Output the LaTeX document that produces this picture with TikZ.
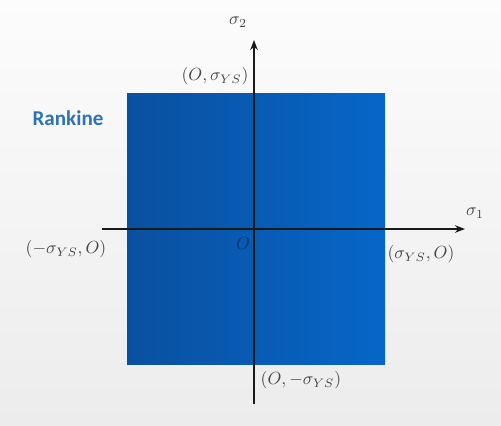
\documentclass[tikz,border=0pt]{standalone}
\usepackage{fontspec}
\newfontfamily\carlito{Carlito}
\usepackage{xcolor}
\usepackage{tikz}
\usetikzlibrary{arrows.meta,positioning}
\definecolor{pagetop}{RGB}{252,252,252}
\definecolor{pagegrey}{RGB}{236,236,236}
\definecolor{boxdark}{RGB}{10,80,160}
\definecolor{boxlight}{RGB}{6,102,200}
\definecolor{rankblue}{RGB}{46,116,181}
\definecolor{labgrey}{RGB}{70,70,70}

\begin{document}
\begin{tikzpicture}[x=0.02cm,y=-0.02cm,
  axis/.style={-{Stealth[length=2mm]},line width=1.5pt,draw=black!90},
  lab/.style={font=\normalsize,text=labgrey,inner sep=1pt},
  region/.style={left color=boxdark,right color=boxlight,draw=none}]
\useasboundingbox (0,0) rectangle (501,426);
\shade[top color=pagetop,bottom color=pagegrey] (0,0) rectangle (501,426);
% yield region
\node[region,minimum width=258*0.02cm,minimum height=271*0.02cm,inner sep=0pt] (rankine) at (256,228.5) {};
\coordinate (xstart) at (102,229);
\coordinate (xend) at (465,229);
\coordinate (ystart) at (254,404);
\coordinate (yend) at (254,40);
\draw[axis] (xstart) -- (xend);
\draw[axis] (ystart) -- (yend);
% labels
\node[lab] (s2) at (238,22) {$\sigma_2$};
\node[lab] (s1) at (475,213) {$\sigma_1$};
\node[lab] (top) at (215,76) {$(O,\sigma_{YS})$};
\node[lab] (left) at (66,249) {$(-\sigma_{YS},O)$};
\node[lab] (right) at (421,254) {$(\sigma_{YS},O)$};
\node[lab] (bottom) at (301,380) {$(O,-\sigma_{YS})$};
\node[lab,text=boxdark!70!black] (origin) at (243,243) {$O$};
\node[font=\carlito\bfseries\large,text=rankblue] (name) at (68,118) {Rankine};
\end{tikzpicture}
\end{document}
